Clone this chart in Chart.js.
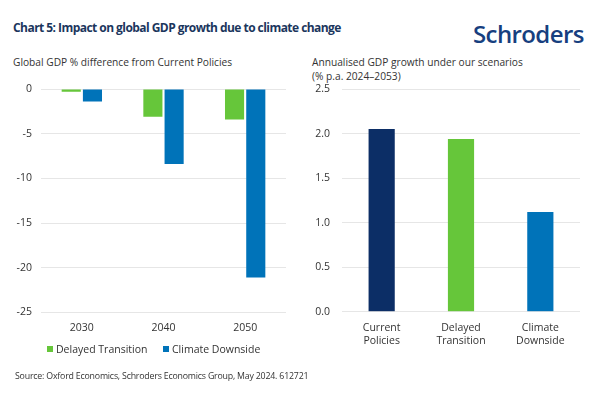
<!DOCTYPE html>
<html>
<head>
<meta charset="utf-8">
<script src="https://cdn.jsdelivr.net/npm/chart.js@4"></script>
<style>
  body { margin: 0; background: #fff; font-family: "Open Sans", sans-serif; color: #333; }
  .page { position: relative; width: 600px; height: 393px; overflow: hidden; }
  .title { position: absolute; left: 13px; top: 19px; font-size: 12px; font-weight: 700; color: #1b365d; letter-spacing: -0.55px; }
  .logo { position: absolute; left: 473px; top: 17px; font-size: 24px; font-weight: 600; color: #173f7f; letter-spacing: -0.6px; }
  .sub { position: absolute; font-size: 10.2px; line-height: 14px; color: #333; }
  .source { position: absolute; left: 15px; top: 370px; font-size: 8.8px; color: #333; letter-spacing: -0.2px; }
  .box { position: absolute; top: 80px; width: 300px; height: 285px; }
  .legend { position: absolute; top: 341px; font-size: 10.5px; line-height: 16px; color: #333; white-space: nowrap; }
  .legend i { display: inline-block; width: 6px; height: 6px; margin-right: 3px; vertical-align: 1px; }
</style>
</head>
<body>
<div class="page">
  <div class="title">Chart 5: Impact on global GDP growth due to climate change</div>
  <div class="logo">Schroders</div>
  <div class="sub" style="left:13px; top:55px;">Global GDP % difference from Current Policies</div>
  <div class="sub" style="left:312px; top:55px;">Annualised GDP growth under our scenarios<br>(% p.a. 2024–2053)</div>
  <div class="box" style="left:0;"><canvas id="diffChart"></canvas></div>
  <div class="box" style="left:300px;"><canvas id="growthChart"></canvas></div>
  <div id="legend"></div>
  <div class="source">Source: Oxford Economics, Schroders Economics Group, May 2024. 612721</div>
</div>
<script>
const years = ["2030", "2040", "2050"];
const delayedDiff = [-0.3, -3.1, -3.4];
const downsideDiff = [-1.4, -8.4, -21.1];

const scenarios = [["Current", "Policies"], ["Delayed", "Transition"], ["Climate", "Downside"]];
const growth = [2.05, 1.94, 1.12];

const GREEN = "#66c63a";
const BLUE = "#0073b9";
const NAVY = "#0c2e66";

document.addEventListener("DOMContentLoaded", () => {
  Chart.defaults.font.family = "'Open Sans', sans-serif";
  Chart.defaults.font.size = 10.5;
  Chart.defaults.color = "#333";

  const gridColor = "#e6e6e6";

  // y축 너비 고정 + 위쪽 여백 제거
  const fixY = (width) => (scale) => {
    scale.width = width;
    scale.paddingTop = 0;
  };

  // 왼쪽: 현재 정책 대비 차이
  const diffChart = new Chart(document.getElementById("diffChart"), {
    type: "bar",
    data: {
      labels: years,
      datasets: [
        { label: "Delayed Transition", data: delayedDiff, backgroundColor: GREEN },
        { label: "Climate Downside", data: downsideDiff, backgroundColor: BLUE },
      ],
    },
    options: {
      responsive: true,
      maintainAspectRatio: false,
      animation: false,
      categoryPercentage: 0.52,
      barPercentage: 0.9,
      layout: { padding: { top: 9, right: 14, left: 0, bottom: 30 } },
      scales: {
        x: {
          grid: { display: false },
          border: { display: false },
          ticks: { padding: 1 },
        },
        y: {
          min: -25,
          max: 0,
          ticks: { stepSize: 5, padding: 9 },
          grid: { color: gridColor, drawTicks: false },
          border: { display: false },
          afterFit: fixY(41),
        },
      },
      plugins: {
        legend: { display: false },
        tooltip: { enabled: false },
      },
    },
  });

  // 범례 (HTML)
  const legendLeft = [47, 163];
  document.getElementById("legend").innerHTML = diffChart.data.datasets
    .map((ds, i) =>
      `<div class="legend" style="left:${legendLeft[i]}px"><i style="background:${ds.backgroundColor}"></i>${ds.label}</div>`)
    .join("");

  // 오른쪽: 연평균 성장률
  new Chart(document.getElementById("growthChart"), {
    type: "bar",
    data: {
      labels: scenarios,
      datasets: [
        { data: growth, backgroundColor: [NAVY, GREEN, BLUE] },
      ],
    },
    options: {
      responsive: true,
      maintainAspectRatio: false,
      animation: false,
      categoryPercentage: 1,
      barPercentage: 0.33,
      layout: { padding: { top: 9, right: 20, left: 0, bottom: 16 } },
      scales: {
        x: {
          grid: { display: false },
          border: { display: false },
          ticks: { padding: 2 },
        },
        y: {
          min: 0,
          max: 2.5,
          ticks: { stepSize: 0.5, padding: 12, callback: (v) => v.toFixed(1) },
          grid: { color: gridColor, drawTicks: false },
          border: { display: false },
          afterFit: fixY(42),
        },
      },
      plugins: {
        legend: { display: false },
        tooltip: { enabled: false },
      },
    },
  });
});
</script>
</body>
</html>
